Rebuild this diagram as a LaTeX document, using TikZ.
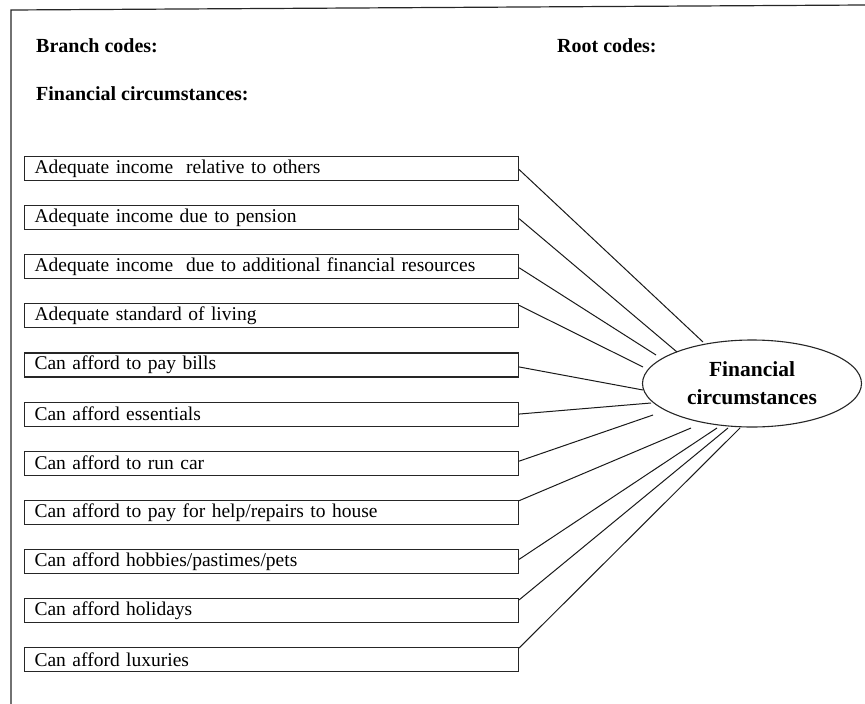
\documentclass[tikz,border=0pt]{standalone}
\usepackage{fontspec}
\setmainfont{Liberation Serif}
\usetikzlibrary{shapes.geometric}
\begin{document}
\begin{tikzpicture}[x=1pt,y=-1pt,
  codebox/.style={draw=black!85,line width=1.1pt,minimum width=494pt,minimum height=24pt,
    inner sep=0pt,text width=474pt,align=left,anchor=north west,
    font=\fontsize{19.5}{20}\selectfont},
  head/.style={anchor=west,inner sep=0pt,font=\fontsize{20}{22}\selectfont\bfseries},
  link/.style={line width=1pt,black!90},
  frame/.style={line width=1.2pt,black!85}]
\useasboundingbox (0,0) rectangle (865,704);
\coordinate (fa) at (11,10);
\coordinate (fb) at (865,5);
\coordinate (fc) at (11,704);
\draw[frame] (fc) -- (fa) -- (fb);
\node[head] (branch) at (36,46) {Branch codes:};
\node[head] (root) at (557,46) {Root codes:};
\node[head] (fin) at (36,94) {Financial circumstances:};

\node[codebox] (b1) at (24,156.0) {Adequate income\ \ relative to others};
\node[codebox] (b2) at (24,205.1) {Adequate income due to pension};
\node[codebox] (b3) at (24,254.2) {Adequate income\ \ due to additional financial resources};
\node[codebox] (b4) at (24,303.3) {Adequate standard of living};
\node[codebox] (b5) at (24,352.4) {Can afford to pay bills};
\node[codebox] (b6) at (24,401.5) {Can afford essentials};
\node[codebox] (b7) at (24,450.6) {Can afford to run car};
\node[codebox] (b8) at (24,499.7) {Can afford to pay for help/repairs to house};
\node[codebox] (b9) at (24,548.8) {Can afford hobbies/pastimes/pets};
\node[codebox] (b10) at (24,597.9) {Can afford holidays};
\node[codebox] (b11) at (24,647.0) {Can afford luxuries};

\node[ellipse,draw=black!85,line width=1.1pt,minimum width=219pt,minimum height=87pt,
  inner sep=0pt,align=center,font=\fontsize{21.5}{28}\selectfont\bfseries] (fc) at (752,383.5)
  {\raisebox{-4pt}{}Financial\\circumstances};

\coordinate (e1) at (703,342);
\coordinate (e2) at (677,352);
\coordinate (e3) at (656,355);
\coordinate (e4) at (643,367);
\coordinate (e5) at (643,390);
\coordinate (e6) at (651,403);
\coordinate (e7) at (653,415);
\coordinate (e8) at (691,428);
\coordinate (e9) at (717,428);
\coordinate (e10) at (728,428);
\coordinate (e11) at (740,428);

\draw[link] ([yshift=-1pt]b1.east) -- (e1);
\draw[link] ([yshift=-1pt]b2.east) -- (e2);
\draw[link] ([yshift=-1pt]b3.east) -- (e3);
\draw[link] ([yshift=-2pt]b4.north east) -- (e4);
\draw[link] ([yshift=-2pt]b5.east) -- (e5);
\draw[link] (b6.east) -- (e6);
\draw[link] ([yshift=2pt]b7.east) -- (e7);
\draw[link] ([yshift=-1pt]b8.north east) -- (e8);
\draw[link] ([yshift=2pt]b9.east) -- (e9);
\draw[link] ([yshift=-2pt]b10.north east) -- (e10);
\draw[link] ([yshift=-1pt]b11.north east) -- (e11);
\end{tikzpicture}
\end{document}
